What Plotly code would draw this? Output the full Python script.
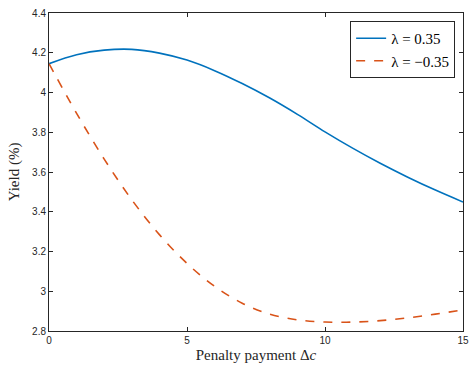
import plotly.graph_objects as go

penalty = [0, 1, 2, 3, 4, 5, 6, 7, 8, 9, 10, 11, 12, 13, 14, 15]
yield_pos = [4.145, 4.19, 4.213, 4.217, 4.198, 4.163, 4.11, 4.045, 3.972, 3.890, 3.802, 3.720, 3.644, 3.574, 3.509, 3.449]
yield_neg = [4.145, 3.895, 3.665, 3.46, 3.285, 3.14, 3.025, 2.94, 2.885, 2.856, 2.845, 2.845, 2.852, 2.866, 2.885, 2.906]
names = ["λ = 0.35", "λ = −0.35"]

fig = go.Figure()
fig.add_trace(go.Scatter(x=penalty, y=yield_pos, mode="lines", name=names[0],
                         line=dict(color="#0072BD", width=1.6, shape="spline", smoothing=1.0)))
fig.add_trace(go.Scatter(x=penalty, y=yield_neg, mode="lines", name=names[1],
                         line=dict(color="#D95319", width=1.6, dash="dash", shape="spline", smoothing=1.0)))

axis_common = dict(showline=True, linecolor="#262626", linewidth=1, mirror="ticks",
                   ticks="inside", ticklen=4, tickcolor="#262626", showgrid=False, zeroline=False,
                   automargin=False,
                   tickfont=dict(family="Liberation Sans, Arial", size=10, color="#262626"))

fig.update_layout(
    width=470, height=366,
    margin=dict(l=49, r=7, t=13, b=35),
    plot_bgcolor="white", paper_bgcolor="white",
    xaxis=dict(range=[0, 15], tickvals=[0, 5, 10, 15],
               title=dict(text="Penalty payment Δ<i>c</i>", standoff=4,
                          font=dict(family="Liberation Serif, serif", size=15, color="#262626")),
               **axis_common),
    yaxis=dict(range=[2.8, 4.4], tickvals=[2.8, 3, 3.2, 3.4, 3.6, 3.8, 4, 4.2, 4.4],
               ticktext=["2.8", "3", "3.2", "3.4", "3.6", "3.8", "4", "4.2", "4.4"],
               title=dict(text="Yield (%)", standoff=8,
                          font=dict(family="Liberation Serif, serif", size=15, color="#262626")),
               **axis_common),
    legend=dict(x=0.981, y=0.975, xanchor="right", yanchor="top",
                bgcolor="white", bordercolor="#262626", borderwidth=1,
                font=dict(family="Liberation Serif, serif", size=15, color="black"),
                tracegroupgap=0, itemwidth=30),
    showlegend=True,
)

fig.write_html("out.html")
